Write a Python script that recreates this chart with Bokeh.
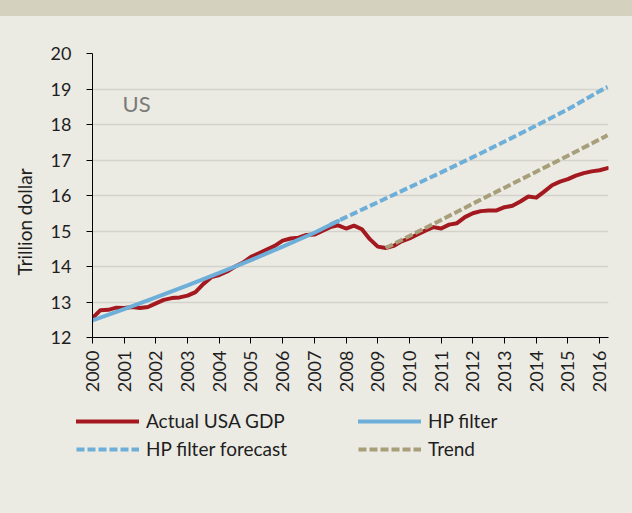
import numpy as np
from bokeh.plotting import figure
from bokeh.layouts import column
from bokeh.models import Range1d, FixedTicker, Legend, LegendItem, Label, Title
from bokeh.embed import file_html
from bokeh.resources import INLINE

# ---------------- data ----------------
gdp = [
    12.55, 12.77, 12.78, 12.84,   # 2000
    12.83, 12.86, 12.83, 12.86,   # 2001
    12.96, 13.06, 13.11, 13.13,   # 2002
    13.18, 13.28, 13.51, 13.70,   # 2003
    13.76, 13.86, 14.00, 14.11,   # 2004
    14.27, 14.37, 14.48, 14.58,   # 2005
    14.73, 14.79, 14.81, 14.89,   # 2006
    14.90, 15.00, 15.11, 15.16,   # 2007
    15.07, 15.15, 15.05, 14.77,   # 2008
    14.56, 14.52, 14.58, 14.71,   # 2009
    14.79, 14.90, 15.01, 15.11,   # 2010
    15.07, 15.18, 15.22, 15.39,   # 2011
    15.50, 15.56, 15.58, 15.58,   # 2012
    15.67, 15.71, 15.83, 15.97,   # 2013
    15.94, 16.11, 16.29, 16.39,   # 2014
    16.46, 16.56, 16.63, 16.68,   # 2015
    16.71, 16.77,                 # 2016
]
first_year = 2000
quarters = [first_year + i / 4 for i in range(len(gdp))]

hp_x = [2000, 2001, 2002, 2003, 2004, 2005, 2006, 2007, 2007.75]
hp_y = [12.48, 12.80, 13.13, 13.47, 13.82, 14.18, 14.56, 14.95, 15.28]

fc_x = [2007.5, 2008, 2009, 2010, 2011, 2012, 2013, 2014, 2015, 2016, 2016.25]
fc_y = [15.18, 15.39, 15.81, 16.23, 16.65, 17.08, 17.52, 17.97, 18.43, 18.94, 19.06]

trend_x = [2009.25, 2010, 2011, 2012, 2013, 2014, 2015, 2016, 2016.25]
trend_y = [14.52, 14.86, 15.31, 15.77, 16.22, 16.67, 17.12, 17.58, 17.70]

year_ticks = list(range(2000, 2017))
value_ticks = list(range(12, 21))

series_names = ["Actual USA GDP", "HP filter", "HP filter forecast", "Trend"]
panel_label = "US"
y_title = "Trillion dollar"

# ---------------- styling ----------------
FONT = "Lato"
BG = "#ebeae3"
BAND = "#d5d1bf"
RED = "#a3191f"
BLUE = "#6dafd8"
KHAKI = "#a89e79"
TXT = "#1e1e1e"
LINE_STYLES = [
    dict(line_color=RED, line_width=4, line_join="round", line_cap="round"),
    dict(line_color=BLUE, line_width=4, line_cap="round"),
    dict(line_color=BLUE, line_width=4, line_dash="8 3", line_cap="butt"),
    dict(line_color=KHAKI, line_width=4, line_dash="8 3", line_cap="butt"),
]
SERIES = [(quarters, gdp), (hp_x, hp_y), (fc_x, fc_y), (trend_x, trend_y)]

# ---------------- main chart ----------------
p = figure(width=632, height=400, output_backend="svg", toolbar_location=None,
           x_range=Range1d(2000, 2016.28), y_range=Range1d(12, 20),
           min_border_left=92, min_border_right=24, min_border_top=53,
           min_border_bottom=63)
p.frame_align = False
p.styles = {"background": f"linear-gradient(to bottom, {BAND} 0px, {BAND} 16px, {BG} 16px, {BG} 100%)"}
p.border_fill_alpha = 0
p.background_fill_alpha = 0
p.outline_line_color = None

for (xs, ys), st in zip(SERIES, LINE_STYLES):
    p.line(xs, ys, **st)

p.xgrid.visible = False
p.ygrid.grid_line_color = "#d3d2cc"
p.ygrid.grid_line_width = 1.3
p.ygrid.ticker = FixedTicker(ticks=value_ticks)

p.xaxis.ticker = FixedTicker(ticks=year_ticks)
p.xaxis.major_label_overrides = {y: str(y) for y in year_ticks}
p.xaxis.major_label_orientation = np.pi / 2
p.yaxis.ticker = FixedTicker(ticks=value_ticks)

for ax in (p.xaxis[0], p.yaxis[0]):
    ax.axis_line_color = "black"
    ax.axis_line_width = 1
    ax.major_tick_line_color = "black"
    ax.major_tick_in = 0
    ax.major_tick_out = 6
    ax.minor_tick_line_color = None
    ax.major_label_text_font = FONT
    ax.major_label_text_font_size = "18px"
    ax.major_label_text_color = TXT

p.xaxis.major_label_standoff = 7
p.yaxis.major_label_standoff = 15

p.add_layout(Title(text=y_title, align="left", vertical_align="top",
                   offset=62, standoff=20, text_font=FONT,
                   text_font_size="19px", text_font_style="normal",
                   text_color=TXT), "left")

p.add_layout(Label(x=2000.95, y=18.58, text=panel_label, text_font=FONT,
                   text_font_size="22px", text_color="#7a7a7a",
                   text_baseline="middle", text_align="left"))

# ---------------- legend strip ----------------
q = figure(width=632, height=113, output_backend="svg", toolbar_location=None,
           x_range=Range1d(0, 1), y_range=Range1d(0, 1),
           x_axis_type=None, y_axis_type=None, min_border=0)
q.frame_align = False
q.styles = {"background": BG}
q.grid.visible = False
q.outline_line_color = None
q.background_fill_alpha = 0
q.border_fill_alpha = 0

# legend keys: the same series, outside this strip's view
keys = [q.line(xs, ys, **st) for (xs, ys), st in zip(SERIES, LINE_STYLES)]
legend = Legend(
    items=[LegendItem(label=name, renderers=[r]) for name, r in zip(series_names, keys)],
    orientation="horizontal", ncols=2, location=(76, 53),
    glyph_width=63, glyph_height=20, label_width=207, label_height=20,
    label_standoff=7, spacing=5, padding=0, margin=0,
    border_line_alpha=0, background_fill_alpha=0,
    label_text_font=FONT, label_text_font_size="19px", label_text_color=TXT,
)
q.add_layout(legend)

page = column(p, q, spacing=0)
open("out.html", "w").write(file_html(page, INLINE))
